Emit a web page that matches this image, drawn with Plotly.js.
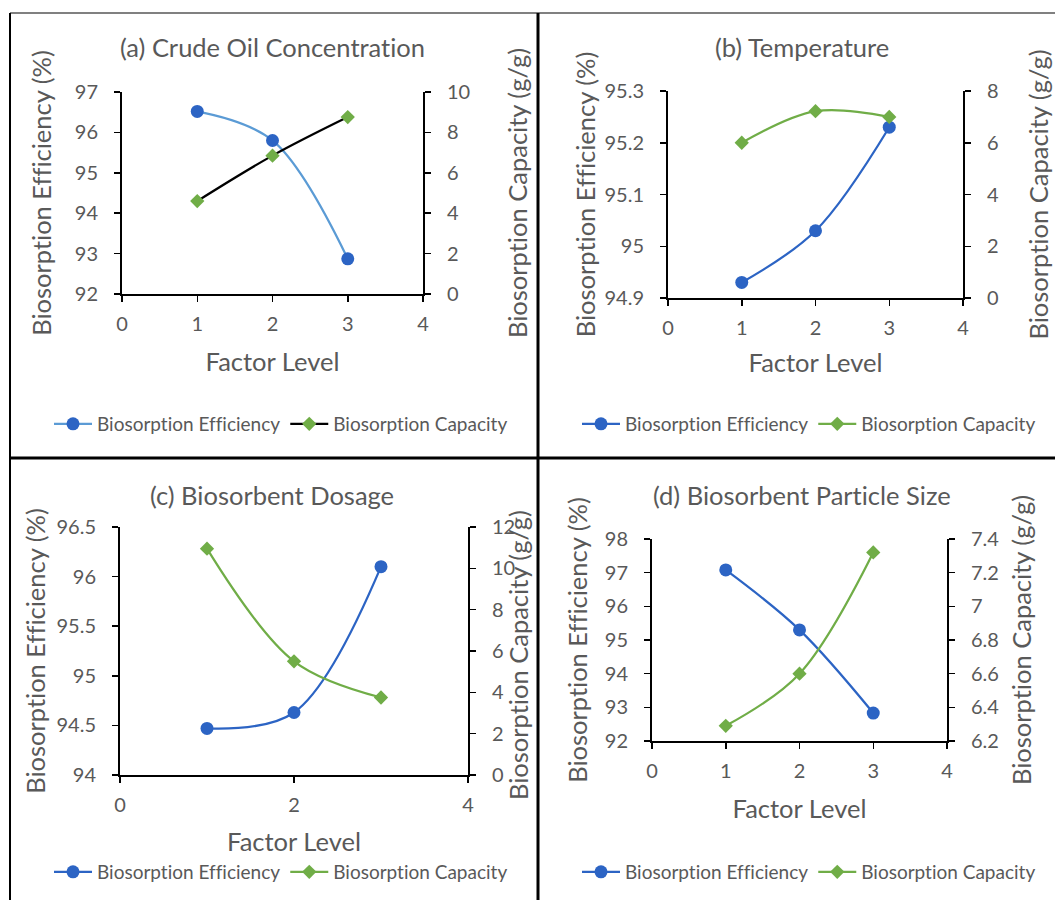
<!DOCTYPE html>
<html><head><meta charset="utf-8">
<script src="https://cdn.plot.ly/plotly-3.0.1.min.js"></script>
<style>html,body{margin:0;padding:0;background:#fff}
svg text{font-variant-ligatures:none;font-feature-settings:"liga" 0;}</style>
</head><body><div id="chart" style="width:1055px;height:900px"></div>
<script>
// ---- data ----
const levels = [1, 2, 3];
const effA = [96.52, 95.80, 92.87];
const capA = [4.60, 6.85, 8.76];
const effB = [94.93, 95.03, 95.23];
const capB = [6.00, 7.22, 7.00];
const effC = [94.47, 94.63, 96.10];
const capC = [10.95, 5.50, 3.75];
const effD = [97.08, 95.30, 92.83];
const capD = [6.29, 6.60, 7.32];
const panelTitles = ['(a) Crude Oil Concentration', '(b) Temperature', '(c) Biosorbent Dosage', '(d) Biosorbent Particle Size'];
const seriesNames = ['Biosorption Efficiency', 'Biosorption Capacity'];
const xTitle = 'Factor Level';
const yLeftTitle = 'Biosorption Efficiency (%)';
const yRightTitle = 'Biosorption Capacity (g/g)';

const FONT = 'Lato, "Liberation Sans", sans-serif';
const GREY = '#595959';
const BLUE = '#2C64C4';
const LIGHTBLUE = '#5B9BD5';
const GREEN = '#70AD47';
const W = 1055, H = 900;
const px = v => v / W;
const py = v => 1 - v / H;

const effs = [effA, effB, effC, effD];
const caps = [capA, capB, capC, capD];
const effLine = [LIGHTBLUE, BLUE, BLUE, BLUE];
const capLine = ['#000000', GREEN, GREEN, GREEN];
const legendIds = ['legend', 'legend2', 'legend3', 'legend4'];

const data = [];
for (let i = 0; i < 4; i++) {
  const xa = i === 0 ? 'x' : 'x' + (i + 1);
  const yl = i === 0 ? 'y' : 'y' + (2 * i + 1);
  const yr = 'y' + (2 * i + 2);
  data.push({
    x: levels, y: effs[i], xaxis: xa, yaxis: yl, type: 'scatter', mode: 'lines+markers',
    name: seriesNames[0], legend: legendIds[i],
    line: {color: effLine[i], width: 2.25, shape: 'spline', smoothing: 1},
    marker: {color: BLUE, size: 13, symbol: 'circle'}
  });
  data.push({
    x: levels, y: caps[i], xaxis: xa, yaxis: yr, type: 'scatter', mode: 'lines+markers',
    name: seriesNames[1], legend: legendIds[i],
    line: {color: capLine[i], width: 2.25, shape: 'spline', smoothing: 1},
    marker: {color: GREEN, size: 11, symbol: 'diamond'}
  });
}

// plot areas (pixel boxes)
const boxes = [
  {l: 122, r: 423, t: 92, b: 294},
  {l: 668, r: 963, t: 91, b: 298},
  {l: 120, r: 468, t: 527, b: 775},
  {l: 652, r: 947, t: 539, b: 741}
];
const xDt = [1, 1, 2, 1];
const yLRange = [[92, 97], [94.9, 95.3], [94, 96.5], [92, 98]];
const yLDt = [1, 0.1, 0.5, 1];
const yRRange = [[0, 10], [0, 8], [0, 12], [6.2, 7.4]];
const yRDt = [2, 2, 2, 0.2];
const xStand = [19, 16, 18, 19];
const yLStand = [16, 2, 4, 10];
const yRStand = [40, 32, null, 15];

const TF = {family: FONT, size: 25.5, color: GREY};
const axBase = {
  showgrid: false, zeroline: false, showline: true, linecolor: '#000', linewidth: 2,
  ticks: 'outside', ticklen: 6, tickwidth: 1.5, tickcolor: '#000',
  tickfont: {family: FONT, size: 20, color: GREY}, fixedrange: true
};

const layout = {
  width: W, height: H, margin: {l: 0, r: 0, t: 0, b: 0},
  paper_bgcolor: '#fff', plot_bgcolor: 'rgba(0,0,0,0)',
  font: {family: FONT, color: GREY},
  annotations: [], shapes: []
};

for (let i = 0; i < 4; i++) {
  const bx = boxes[i];
  const xk = i === 0 ? 'xaxis' : 'xaxis' + (i + 1);
  const ylk = i === 0 ? 'yaxis' : 'yaxis' + (2 * i + 1);
  const yrk = 'yaxis' + (2 * i + 2);
  const xa = i === 0 ? 'x' : 'x' + (i + 1);
  const yl = i === 0 ? 'y' : 'y' + (2 * i + 1);
  layout[xk] = Object.assign({}, axBase, {
    domain: [px(bx.l), px(bx.r)], anchor: yl, range: [0, 4], tick0: 0, dtick: xDt[i],
    ticklabelstandoff: 5,
    title: {text: xTitle, font: TF, standoff: xStand[i]}
  });
  layout[ylk] = Object.assign({}, axBase, {
    domain: [py(bx.b), py(bx.t)], anchor: xa, range: yLRange[i], tick0: yLRange[i][0], dtick: yLDt[i],
    ticklabelstandoff: 12,
    title: {text: yLeftTitle, font: TF, standoff: yLStand[i]}
  });
  const right = Object.assign({}, axBase, {
    overlaying: yl, side: 'right', anchor: xa, range: yRRange[i], tick0: yRRange[i][0], dtick: yRDt[i],
    ticklabelstandoff: 12
  });
  if (yRStand[i] !== null) {
    right.title = {text: yRightTitle, font: TF, standoff: yRStand[i]};
  } else {
    // title sits over its tick labels in the reference: place it directly
    layout.annotations.push({
      text: yRightTitle, xref: 'paper', yref: 'paper', showarrow: false, textangle: -90,
      x: px(518), y: py(655), xanchor: 'center', yanchor: 'middle', font: TF
    });
  }
  layout[yrk] = right;
  layout[legendIds[i]] = {
    orientation: 'h', x: px(i % 2 === 0 ? 49 : 577), y: py(i < 2 ? 424 : 872),
    xanchor: 'left', yanchor: 'middle', bgcolor: 'rgba(0,0,0,0)',
    font: {family: FONT, size: 19, color: GREY}, itemwidth: 38, traceorder: 'normal'
  };
  layout.annotations.push({
    text: panelTitles[i], xref: 'paper', yref: 'paper', showarrow: false,
    x: px(i % 2 === 0 ? 272 : 802), y: py(i < 2 ? 47 : 495), xanchor: 'center', yanchor: 'middle',
    font: TF
  });
}

// panel frames
const frame = (x0, y0, x1, y1, c, w) => ({type: 'line', xref: 'paper', yref: 'paper',
  x0: px(x0), y0: py(y0), x1: px(x1), y1: py(y1), line: {color: c, width: w}});
layout.shapes.push(frame(10, 13, 1055, 13, '#808080', 2));
layout.shapes.push(frame(10, 13, 10, 900, '#000', 2));
layout.shapes.push(frame(538, 13, 538, 900, '#000', 3));
layout.shapes.push(frame(10, 458, 1055, 458, '#000', 3));

Plotly.newPlot('chart', data, layout, {displayModeBar: false, staticPlot: true});
</script>
</body></html>
